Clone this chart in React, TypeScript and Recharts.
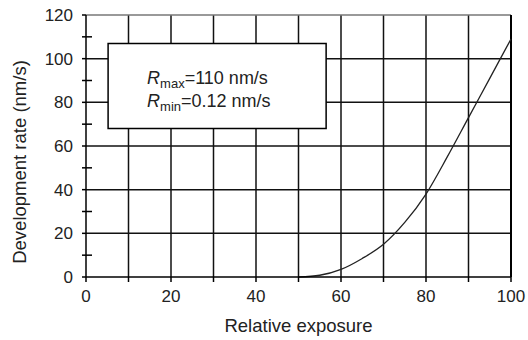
import {
  CartesianGrid,
  Line,
  LineChart,
  ReferenceArea,
  ReferenceLine,
  XAxis,
  YAxis,
} from "recharts";

// relative exposure (%) and development rate (nm/s)
const exposure = [50, 55, 60, 65, 70, 75, 80, 85, 90, 95, 100];
const rate = [0, 0.8, 3.5, 8.5, 15, 25, 38, 55, 73, 91, 109];

const xTicks = [0, 10, 20, 30, 40, 50, 60, 70, 80, 90, 100];
const yTicks = [0, 10, 20, 30, 40, 50, 60, 70, 80, 90, 100, 110, 120];
const xGrid = [10, 20, 30, 40, 50, 60, 70, 80, 90];
const yGrid = [20, 40, 60, 80, 100];

const data = exposure.map((x, i) => ({ x, rate: rate[i] }));

const FONT = "'Liberation Sans', Arial, Helvetica, sans-serif";

function YTick(props: any) {
  const { x, y, payload } = props;
  const axisX = x + 9;
  const major = payload.value % 20 === 0;
  return (
    <g>
      <line
        x1={axisX - 4}
        x2={major ? axisX : axisX + 6}
        y1={y}
        y2={y}
        stroke="#000"
        strokeWidth={1.5}
      />
      {major && (
        <text
          x={axisX - 13}
          y={y}
          dy="0.36em"
          textAnchor="end"
          fontSize={17}
          fontFamily={FONT}
          fill="#222"
        >
          {payload.value}
        </text>
      )}
    </g>
  );
}

function BoxLabel(props: any) {
  const { x, y } = props.viewBox;
  const tx = x + 39;
  return (
    <text fontFamily={FONT} fontSize={18} fill="#222">
      <tspan x={tx} y={y + 41}>
        <tspan fontStyle="italic">R</tspan>
        <tspan fontSize={13} dy={4}>max</tspan>
        <tspan dy={-4}>=110 nm/s</tspan>
      </tspan>
      <tspan x={tx} y={y + 64}>
        <tspan fontStyle="italic">R</tspan>
        <tspan fontSize={13} dy={4}>min</tspan>
        <tspan dy={-4}>=0.12 nm/s</tspan>
      </tspan>
    </text>
  );
}

export default function App() {
  return (
    <div style={{ position: "absolute", left: 0, top: 0, background: "#fff" }}>
      <LineChart
        width={528}
        height={340}
        data={data}
        margin={{ top: 15, right: 17, left: 0, bottom: 0 }}
      >
        <CartesianGrid
          verticalValues={xGrid}
          horizontalValues={yGrid}
          stroke="#111"
          strokeWidth={1.5}
        />
        <XAxis
          dataKey="x"
          type="number"
          domain={[0, 100]}
          ticks={xTicks}
          interval={0}
          tickFormatter={(v: number) => (v % 20 === 0 ? String(v) : "")}
          height={63}
          tickSize={5}
          tickMargin={8}
          axisLine={{ stroke: "#000", strokeWidth: 1.5 }}
          tickLine={{ stroke: "#000", strokeWidth: 1.5 }}
          tick={{ fill: "#222", fontSize: 17, fontFamily: FONT }}
          label={{
            value: "Relative exposure",
            position: "insideBottom",
            offset: 8,
            fill: "#222",
            fontSize: 18.5,
            fontFamily: FONT,
          }}
        />
        <YAxis
          type="number"
          domain={[0, 120]}
          ticks={yTicks}
          interval={0}
          width={86}
          tickSize={4}
          tickMargin={5}
          tickLine={false}
          axisLine={{ stroke: "#000", strokeWidth: 1.5 }}
          tick={<YTick />}
          label={{
            value: "Development rate (nm/s)",
            angle: -90,
            position: "insideLeft",
            offset: 19,
            dy: 16,
            fill: "#222",
            fontSize: 18.5,
            fontFamily: FONT,
            style: { textAnchor: "middle" },
          }}
        />
        <ReferenceLine y={120} stroke="#777" strokeWidth={1.5} />
        <ReferenceLine x={100} stroke="#000" strokeWidth={2} />
        <ReferenceArea
          x1={5.2}
          x2={56.5}
          y1={68}
          y2={107}
          fill="#fff"
          fillOpacity={1}
          stroke="#000"
          strokeWidth={1.5}
          label={<BoxLabel />}
        />
        <Line
          dataKey="rate"
          type="monotone"
          stroke="#222"
          strokeWidth={1.3}
          dot={false}
          isAnimationActive={false}
        />
      </LineChart>
    </div>
  );
}
